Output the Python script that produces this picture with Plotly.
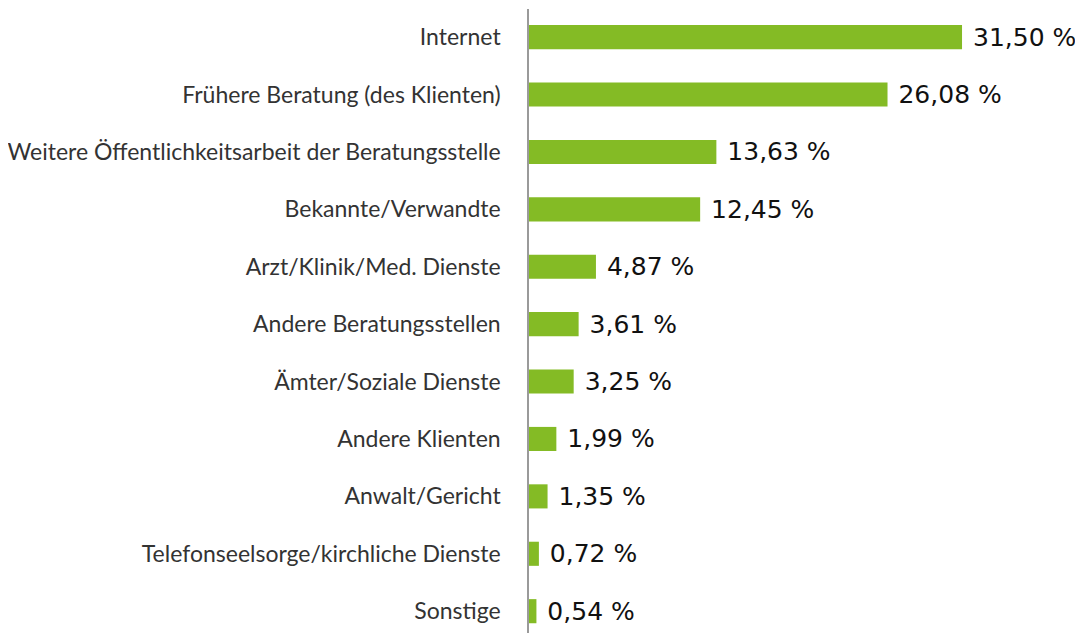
import plotly.graph_objects as go

categories = [
    "Internet",
    "Frühere Beratung (des Klienten)",
    "Weitere Öffentlichkeitsarbeit der Beratungsstelle",
    "Bekannte/Verwandte",
    "Arzt/Klinik/Med. Dienste",
    "Andere Beratungsstellen",
    "Ämter/Soziale Dienste",
    "Andere Klienten",
    "Anwalt/Gericht",
    "Telefonseelsorge/kirchliche Dienste",
    "Sonstige",
]
values = [31.50, 26.08, 13.63, 12.45, 4.87, 3.61, 3.25, 1.99, 1.35, 0.72, 0.54]
value_labels = [" " + f"{v:.2f}".replace(".", ",") + " %" for v in values]

fig = go.Figure(
    go.Bar(
        x=values,
        y=categories,
        orientation="h",
        marker=dict(color="#84BB25", line=dict(width=0)),
        width=0.42,
        text=value_labels,
        textposition="outside",
        constraintext="none",
        textfont=dict(family="DejaVu Sans", size=25, color="#111111"),
        cliponaxis=False,
        hoverinfo="skip",
    )
)

fig.update_layout(
    width=1075,
    height=625,
    margin=dict(l=521, r=0, t=1, b=0),
    paper_bgcolor="white",
    plot_bgcolor="white",
    showlegend=False,
)
fig.update_xaxes(
    range=[0, 40.3],
    visible=False,
    showgrid=False,
    zeroline=False,
)
fig.update_yaxes(
    type="category",
    categoryorder="array",
    categoryarray=categories,
    range=[10.38, -0.49],
    showgrid=False,
    zeroline=False,
    showline=True,
    linecolor="#9a9a9a",
    linewidth=1.5,
    ticks="",
    ticklabelstandoff=22,
    tickfont=dict(family="Lato", size=23, color="#333333"),
)

fig.write_html("out.html")
